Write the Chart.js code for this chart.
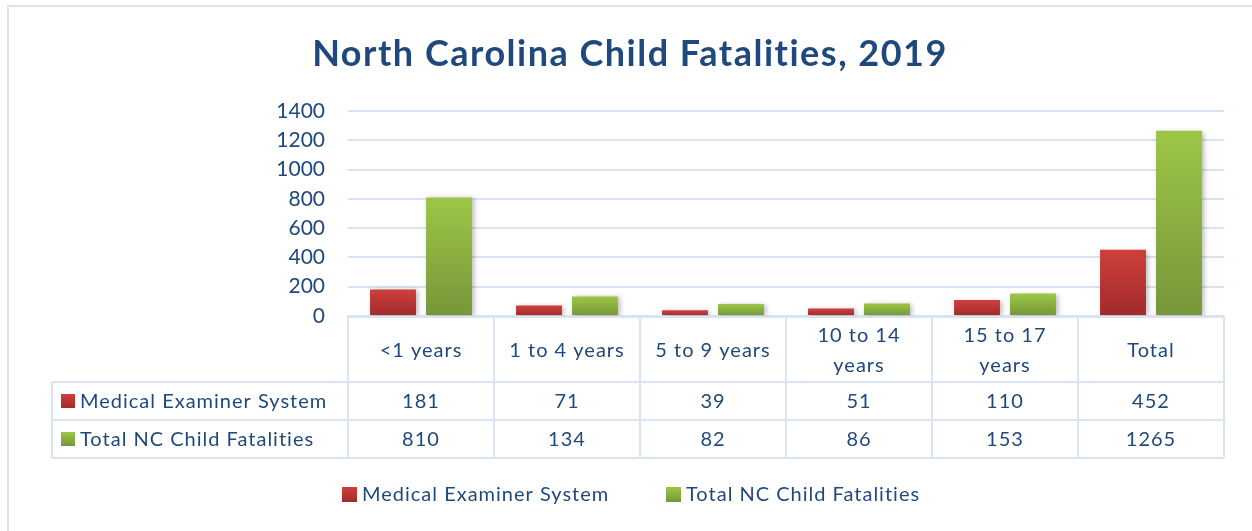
<!DOCTYPE html>
<html>
<head>
<meta charset="utf-8">
<script src="https://cdn.jsdelivr.net/npm/chart.js@4/dist/chart.umd.min.js"></script>
<style>
  html, body { margin: 0; padding: 0; background: #ffffff; }
  #wrap { width: 1252px; height: 531px; position: relative; }
  canvas { display: block; }
</style>
</head>
<body>
<div id="wrap"><canvas id="c" width="1252" height="531"></canvas></div>
<script>
// ---- data ----
const chartTitle = 'North Carolina Child Fatalities, 2019';
const categories = [['<1 years'], ['1 to 4 years'], ['5 to 9 years'], ['10 to 14', 'years'], ['15 to 17', 'years'], ['Total']];
const seriesNames = ['Medical Examiner System', 'Total NC Child Fatalities'];
const medicalExaminer = [181, 71, 39, 51, 110, 452];
const totalFatalities = [810, 134, 82, 86, 153, 1265];
const yTickMin = 0;
const yTickMax = 1400;
const yTickStep = 200;

// ---- styles ----
const FONT = 'Lato, "Open Sans", "Liberation Sans", sans-serif';
const TEXT = '#1F497D';
const GRID = '#DAE3F1';
const REDS = ['#CF3F3C', '#A02B2A'];
const GREENS = ['#9DC646', '#76963A'];
const SWATCH = [REDS, GREENS];

function barGradient(ctx, colors) {
  const chart = ctx.chart;
  const ys = chart.scales && chart.scales.y;
  if (!ys || ctx.type !== 'data' || !chart.chartArea) return colors[0];
  const v = ctx.raw;
  const top = ys.getPixelForValue(v);
  const base = ys.getPixelForValue(0);
  if (!isFinite(top) || !isFinite(base) || top === base) return colors[0];
  const g = chart.ctx.createLinearGradient(0, top, 0, base);
  g.addColorStop(0, colors[0]);
  g.addColorStop(1, colors[1]);
  return g;
}

function swatchGradient(c, x, y, s, colors) {
  const g = c.createLinearGradient(0, y, 0, y + s);
  g.addColorStop(0, colors[0]);
  g.addColorStop(1, colors[1]);
  return g;
}

const HEADER_BOTTOM = 382;
const ROW1_BOTTOM = 420;
const ROW2_BOTTOM = 458;
const TABLE_LEFT = 52;

function setSpacing(c, px) {
  if ('letterSpacing' in c) c.letterSpacing = px + 'px';
}

const decorPlugin = {
  id: 'decor',
  beforeDatasetsDraw(chart) {
    const c = chart.ctx;
    c.save();
    c.shadowColor = 'rgba(0,0,0,0.28)';
    c.shadowBlur = 5;
    c.shadowOffsetX = 2;
    c.shadowOffsetY = 1;
  },
  afterDatasetsDraw(chart) {
    chart.ctx.restore();
  },
  afterDraw(chart) {
    const c = chart.ctx;
    const xs = chart.scales.x;
    const area = chart.chartArea;
    const n = categories.length;
    const colW = (xs.right - xs.left) / n;
    c.save();

    // outer border
    c.strokeStyle = GRID;
    c.lineWidth = 2;
    c.beginPath();
    c.moveTo(8, 540);
    c.lineTo(8, 6);
    c.lineTo(1260, 6);
    c.stroke();

    // title
    c.fillStyle = TEXT;
    c.font = 'bold 36px ' + FONT;
    setSpacing(c, 1.5);
    c.textAlign = 'center';
    c.textBaseline = 'alphabetic';
    c.fillText(chartTitle, 630, 66);

    // table grid
    c.strokeStyle = GRID;
    c.lineWidth = 2;
    c.beginPath();
    c.moveTo(area.left, area.bottom + 1); c.lineTo(area.right, area.bottom + 1);
    [HEADER_BOTTOM, ROW1_BOTTOM, ROW2_BOTTOM].forEach(y => { c.moveTo(TABLE_LEFT, y); c.lineTo(area.right, y); });
    c.moveTo(TABLE_LEFT, HEADER_BOTTOM); c.lineTo(TABLE_LEFT, ROW2_BOTTOM);
    for (let i = 0; i <= n; i++) {
      const x = xs.left + i * colW;
      c.moveTo(x, area.bottom); c.lineTo(x, ROW2_BOTTOM);
    }
    c.stroke();

    // header labels
    c.fillStyle = TEXT;
    c.font = '20px ' + FONT;
    setSpacing(c, 1);
    c.textAlign = 'center';
    c.textBaseline = 'alphabetic';
    categories.forEach((lines, i) => {
      const x = xs.getPixelForValue(i);
      const lh = 30;
      const b0 = 357 - (lines.length - 1) * lh / 2;
      lines.forEach((t, k) => c.fillText(t, x, b0 + k * lh));
    });

    // rows
    const rows = [medicalExaminer, totalFatalities];
    const rowBase = [408, 446];
    rows.forEach((vals, r) => {
      const y = rowBase[r];
      c.fillStyle = swatchGradient(c, 61, y - 14, 14, SWATCH[r]);
      c.fillRect(61, y - 14, 14, 14);
      c.fillStyle = TEXT;
      c.textAlign = 'left';
      c.fillText(seriesNames[r], 80, y);
      c.textAlign = 'center';
      vals.forEach((v, i) => c.fillText(String(v), xs.getPixelForValue(i), y));
    });

    // legend
    const legBase = 501;
    const legX = [342, 666];
    seriesNames.forEach((name, r) => {
      c.fillStyle = swatchGradient(c, legX[r], legBase - 14, 15, SWATCH[r]);
      c.fillRect(legX[r], legBase - 14, 15, 15);
      c.fillStyle = TEXT;
      c.textAlign = 'left';
      c.fillText(name, legX[r] + 20, legBase);
    });
    c.restore();
  }
};

new Chart(document.getElementById('c'), {
  type: 'bar',
  data: {
    labels: categories,
    datasets: [
      {
        label: seriesNames[0],
        data: medicalExaminer,
        backgroundColor: ctx => barGradient(ctx, REDS),
        borderWidth: 0,
        categoryPercentage: 0.767,
        barPercentage: 0.82
      },
      {
        label: seriesNames[1],
        data: totalFatalities,
        backgroundColor: ctx => barGradient(ctx, GREENS),
        borderWidth: 0,
        categoryPercentage: 0.767,
        barPercentage: 0.82
      }
    ]
  },
  options: {
    responsive: false,
    animation: false,
    layout: { padding: { left: 0, top: 111, right: 28, bottom: 215 } },
    plugins: {
      legend: { display: false },
      title: { display: false },
      tooltip: { enabled: false }
    },
    scales: {
      x: { display: false, offset: true },
      y: {
        min: yTickMin,
        max: yTickMax,
        ticks: {
          stepSize: yTickStep,
          color: TEXT,
          font: { family: FONT, size: 21 },
          padding: 23,
          callback: v => String(v)
        },
        grid: { color: GRID, lineWidth: 2, drawTicks: false },
        border: { display: false },
        afterFit(scale) { scale.width = 348; }
      }
    }
  },
  plugins: [decorPlugin]
});
</script>
</body>
</html>
